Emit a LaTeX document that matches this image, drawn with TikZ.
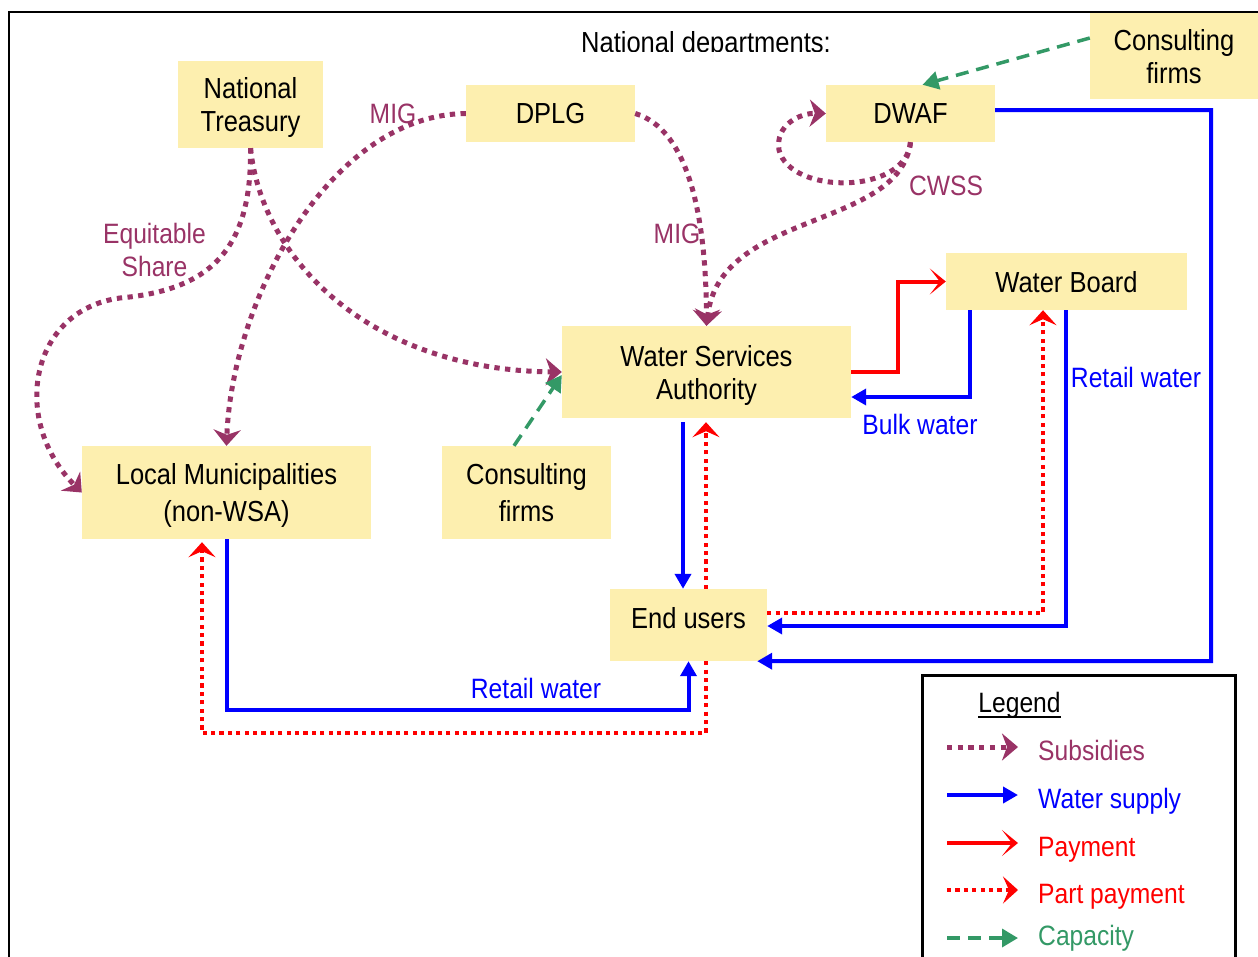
\documentclass[tikz,border=0pt]{standalone}
\usepackage{fontspec}
\setmainfont{Liberation Sans}[FakeStretch=0.88]
\usetikzlibrary{arrows.meta}
\definecolor{plum}{HTML}{993366}
\definecolor{sea}{HTML}{339966}
\definecolor{boxy}{RGB}{253,239,175}
\definecolor{wblue}{HTML}{0000FF}
\definecolor{wred}{HTML}{FF0000}
\begin{document}
\begin{tikzpicture}[x=1pt,y=-1pt,
  box/.style={fill=boxy, inner sep=0pt, align=center, text depth=0pt, font=\fontsize{29}{33}\selectfont},
  lbl/.style={font=\fontsize{28}{33}\selectfont, inner sep=0pt, anchor=base},
  subs/.style={plum, line width=5pt, dash pattern=on 5.3pt off 5.4pt, -{Stealth[length=16pt,width=27pt,inset=5pt]}},
  water/.style={wblue, line width=4pt, -{Triangle[length=15pt,width=16pt]}},
  pay/.style={wred, line width=4pt, -{Stealth[length=16pt,width=26pt,inset=10pt]}},
  ppay/.style={wred, line width=4pt, dash pattern=on 4.2pt off 4.2pt, -{Stealth[length=15pt,width=27pt,inset=6pt]}},
  capac/.style={sea, line width=3.5pt, dash pattern=on 13pt off 8pt, -{Triangle[length=16pt,width=18pt]}}
]
\useasboundingbox (0,0) rectangle (1258,956);
\fill[white] (0,0) rectangle (1258,956);
% frame
\draw[line width=2pt] (9,1000) -- (9,12) -- (1300,12);

% boxes
\node[box, minimum width=145pt, minimum height=87pt] (nt) at (250.5,104.5) {National\\Treasury};
\node[box, minimum width=169pt, minimum height=57pt] (dplg) at (550.5,113.5) {DPLG};
\node[box, minimum width=169pt, minimum height=57pt] (dwaf) at (910.5,113.5) {DWAF};
\node[box, minimum width=168pt, minimum height=86pt] (cft) at (1174,56) {Consulting\\firms};
\node[box, minimum width=241pt, minimum height=57pt] (wb) at (1066.5,281.5) {Water Board};
\node[box, minimum width=289pt, minimum height=92pt] (wsa) at (706.5,372) {Water Services\\Authority};
\node[box, minimum width=289pt, minimum height=93pt, font=\fontsize{29}{37}\selectfont] (lm) at (226.5,492.5) {Local Municipalities\\(non-WSA)};
\node[box, minimum width=169pt, minimum height=93pt, font=\fontsize{29}{37}\selectfont] (cfm) at (526.5,492.5) {Consulting\\firms};
\node[box, minimum width=157pt, minimum height=72pt, text height=21pt, text depth=15pt] (eu) at (688.5,625) {End users};

% title (clipped)
\begin{scope}
\clip (0,0) rectangle (1258,51.5);
\node[font=\fontsize{29}{33}\selectfont, inner sep=0pt, anchor=base] (title) at (706,52) {National departments:};
\end{scope}

% subsidies
\draw[subs] (nt.south) .. controls (252,250) and (210,290) .. (120,298) .. controls (30,310) and (10,420) .. (lm.west);
\draw[subs] (nt.south) .. controls (262,260) and (370,370) .. (wsa.west);
\draw[subs] (dplg.west) .. controls (330,115) and (232,300) .. (lm.north);
\draw[subs] (dplg.east) .. controls (690,130) and (706,220) .. (wsa.north);
\draw[subs] (dwaf.south) .. controls (900,230) and (720,210) .. (wsa.north);
\draw[subs] (dwaf.south) .. controls (906,195) and (790,195) .. (779,150) .. controls (775,125) and (800,113) .. (dwaf.west);

% capacity
\draw[capac] ([yshift=18pt]cft.west) -- ([xshift=12pt]dwaf.north);
\draw[capac] ([xshift=-12.5pt]cfm.north) -- ([yshift=-3pt]wsa.west);

% water supply
\draw[water] ([yshift=3.5pt]dwaf.east) -| (1211,661) -- ([xshift=-10pt]eu.south east);
\draw[water] ([xshift=-0.5pt]wb.south) |- ([yshift=-1pt]eu.east);
\draw[water] ([xshift=-96.5pt]wb.south) |- ([yshift=-25pt]wsa.east);
\draw[water, shorten <=4pt] ([xshift=-23.5pt]wsa.south) -- ([xshift=-23.5pt]wsa.south |- eu.north);
\draw[water] (lm.south) -- ++(0,171) -| (eu.south);

% payment
\draw[pay] (wsa.east) -- ++(47,0) |- (wb.west);

% part payment
\draw[ppay, shorten >=4pt] ([xshift=17.5pt]eu.north) -- ([xshift=-0.5pt]wsa.south);
\draw[ppay] ([yshift=12pt]eu.east) -| ([xshift=-23.5pt]wb.south);
\draw[ppay, shorten >=3pt] ([xshift=17.5pt]eu.south) -- ++(0,72) -| ([xshift=-24.5pt]lm.south);

% labels
\node[lbl, plum] (mig1) at (393,123) {MIG};
\node[lbl, plum] (mig2) at (677,243) {MIG};
\node[lbl, plum] (cwss) at (946,195) {CWSS};
\node[font=\fontsize{28}{33}\selectfont, inner sep=0pt, align=center, text depth=0pt, plum] (eq) at (154.5,249.5) {Equitable\\Share};
\node[lbl, wblue] (bulk) at (920,434) {Bulk water};
\node[lbl, wblue] (rw1) at (1136,387) {Retail water};
\node[lbl, wblue] (rw2) at (536,698) {Retail water};

% legend
\draw[line width=3pt] (922.5,1000) -- (922.5,675) -- (1235,675) -- (1235,1000);
\node[lbl] (leg) at (1019.5,712) {Legend};
\draw[line width=2.5pt] ([yshift=-5pt]leg.base west) -- ([yshift=-5pt]leg.base east);
\coordinate (l1a) at (947,747); \coordinate (l1b) at (1018,747);
\coordinate (l2a) at (947,795); \coordinate (l2b) at (1018,795);
\coordinate (l3a) at (947,843); \coordinate (l3b) at (1018,843);
\coordinate (l4a) at (947,890); \coordinate (l4b) at (1018,890);
\coordinate (l5a) at (947,938); \coordinate (l5b) at (1018,938);
\draw[subs] (l1a) -- (l1b);
\draw[water] (l2a) -- (l2b);
\draw[pay] (l3a) -- (l3b);
\draw[ppay] (l4a) -- (l4b);
\draw[capac] (l5a) -- (l5b);
\node[lbl, anchor=base west, plum] (t1) at (1038,760) {Subsidies};
\node[lbl, anchor=base west, wblue] (t2) at (1038,808) {Water supply};
\node[lbl, anchor=base west, wred] (t3) at (1038,856) {Payment};
\node[lbl, anchor=base west, wred] (t4) at (1038,903) {Part payment};
\node[lbl, anchor=base west, sea] (t5) at (1038,945) {Capacity};
\end{tikzpicture}
\end{document}
